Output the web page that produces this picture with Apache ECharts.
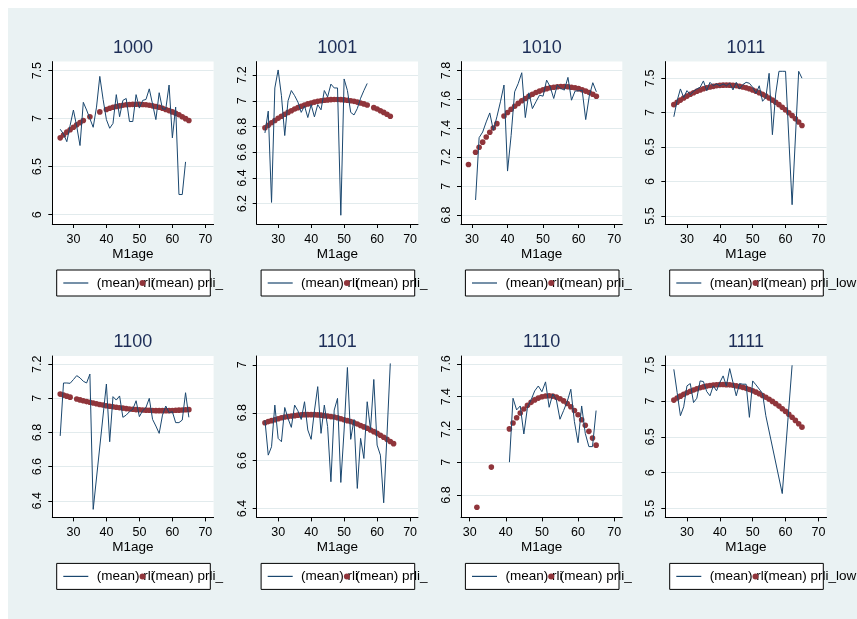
<!DOCTYPE html>
<html>
<head>
<meta charset="utf-8">
<title>rli by M1age</title>
<script src="https://cdn.jsdelivr.net/npm/echarts@6/dist/echarts.min.js"></script>
<style>
  html, body { margin: 0; padding: 0; background: #ffffff; }
  #chart { position: absolute; left: 8px; top: 8px; width: 849px; height: 611px; }
</style>
</head>
<body>
<div id="chart"></div>
<script>
// ages on the horizontal axis
const ages = [26, 27, 28, 29, 30, 31, 32, 33, 34, 35, 36, 37, 38, 39, 40, 41, 42, 43, 44, 45,
              46, 47, 48, 49, 50, 51, 52, 53, 54, 55, 56, 57, 58, 59, 60, 61, 62, 63, 64, 65];

const groupNames = ['1000', '1001', '1010', '1011', '1100', '1101', '1110', '1111'];
const xTicks = [30, 40, 50, 60, 70];

// (mean) rli by age, one array per group (null = no observation at that age)
const rli1000 = [6.89, 6.84, 6.76, 6.93, 7.09, 6.92, 6.72, 7.17, 7.09, 7.00, 6.91, 7.12, 7.44, 7.20, 6.99, 6.90, 6.95, 7.25, 7.02, 7.19,
                 7.21, 6.97, 6.97, 7.25, 7.11, 7.19, 7.20, 7.31, 7.15, 6.99, 7.27, 7.10, 7.10, 7.35, 6.80, 7.12, 6.21, 6.21, 6.55, null];
const rli1001 = [6.75, 6.92, 6.21, 7.10, 7.24, 7.04, 6.73, 7.00, 7.08, 7.04, 6.99, 6.91, 6.96, 6.87, 6.97, 6.875, 6.97, 6.93, 7.08, 7.03,
                 7.13, 7.10, 7.10, 6.11, 7.17, 7.08, 6.91, 6.89, 6.94, 7.02, 7.08, 7.135, null, null, null, null, null, null, null, null];
const rli1010 = [null, null, null, null, null, 6.905, 7.336, 7.375, 7.445, 7.507, 7.387, 7.48, 7.584, 7.70, 7.105, 7.35, 7.653, 7.71, 7.785, 7.475,
                 7.646, 7.537, 7.584, 7.63, 7.623, 7.734, 7.688, 7.607, 7.70, 7.676, 7.665, 7.753, 7.595, 7.658, 7.66, 7.665, 7.461, 7.623, 7.716, 7.653];
const rli1011 = [6.94, 7.174, 7.344, 7.22, 7.32, 7.26, 7.31, 7.344, 7.368, 7.46, 7.32, 7.44, 7.39, 7.416, 7.39, 7.416, 7.39, 7.426, 7.33, 7.44,
                 7.344, 7.407, 7.44, 7.426, 7.368, 7.28, 7.39, 7.165, 7.22, 7.571, 6.68, 7.27, 7.60, 7.60, 7.60, null, 5.663, null, 7.60, 7.50];
const rli1100 = [6.78, 7.09, 7.09, 7.088, 7.11, 7.133, 7.12, 7.10, 7.09, 7.142, 6.35, null, null, null, 7.084, 6.746, 7.01, 6.99, 7.014, 6.889,
                 6.902, 6.922, 6.936, 6.986, 6.893, 6.928, 6.947, 7.00, 6.877, 6.838, 6.795, 6.902, 6.955, 6.916, 6.922, 6.858, 6.858, 6.873, 7.033, 6.889];
const rli1101 = [6.769, 6.623, 6.658, 6.832, 6.693, 6.679, 6.822, 6.776, 6.739, 6.832, 6.808, 6.772, 6.846, 6.728, 6.689, 6.808, 6.909, 6.714, 6.832, 6.742,
                 6.512, 6.811, 6.86, 6.509, 6.728, 6.989, 6.689, 6.772, 6.484, 6.693, 6.609, 6.846, 6.73, 6.939, 6.665, 6.623, 6.424, 6.707, 7.006, null];
const rli1110 = [null, null, null, null, null, null, null, null, null, null, null, null, null, null, null, 7.00, 7.39, 7.319, 7.343, 7.172,
                 7.335, 7.38, 7.435, 7.465, 7.43, 7.49, 7.335, 7.416, 7.38, 7.262, 7.315, 7.37, 7.445, 7.247, 7.119, 7.343, 7.176, 7.095, 7.095, 7.315];
const rli1111 = [7.444, 7.12, 6.796, 6.92, 7.213, 7.245, 6.98, 7.04, 7.282, 7.273, 7.134, 7.074, 7.213, 7.144, 7.26, 7.352, 7.213, 7.454, 7.26, 7.074,
                 7.245, 7.236, 7.236, 6.773, 7.282, 7.227, 7.167, 7.106, 6.796, null, null, null, null, 5.708, null, null, 7.50, null, null, null];

// (mean) prli_low by age, one array per group
const prli1000 = [6.80, 6.83, 6.86, 6.885, 6.91, 6.936, 6.959, 6.98, null, 7.02, null, null, 7.07, null, 7.096, 7.108, 7.118, 7.126, 7.133, 7.139,
                  7.144, 7.147, 7.149, 7.15, 7.149, 7.147, 7.144, 7.139, 7.133, 7.126, 7.118, 7.108, 7.096, 7.084, 7.07, 7.055, 7.04, 7.02, 7.00, 6.98];
const prli1001 = [6.79, 6.81, 6.829, 6.847, 6.864, 6.88, 6.896, 6.91, 6.923, 6.936, 6.947, 6.958, 6.967, 6.976, 6.983, 6.99, 6.996, 7.00, 7.004, 7.007,
                  7.009, 7.01, 7.01, 7.009, 7.007, 7.004, 7.00, 6.996, 6.99, 6.983, 6.976, 6.967, null, 6.947, 6.936, 6.923, 6.91, 6.896, 6.88, null];
const prli1010 = [null, null, null, 7.15, null, 7.235, 7.27, 7.305, 7.341, 7.373, 7.403, 7.433, null, 7.486, 7.51, 7.532, 7.553, 7.573, 7.591, 7.607,
                  7.622, 7.636, 7.648, 7.658, 7.667, 7.675, 7.681, 7.685, 7.688, 7.69, 7.69, 7.688, 7.685, 7.681, 7.675, 7.667, 7.658, 7.648, 7.636, 7.622];
const prli1011 = [7.116, 7.15, 7.182, 7.212, 7.24, 7.266, 7.289, 7.31, 7.329, 7.346, 7.36, 7.372, 7.382, 7.39, 7.396, 7.399, 7.40, 7.399, 7.396, 7.39,
                  7.382, 7.372, 7.36, 7.346, 7.329, 7.31, 7.289, 7.266, 7.24, 7.212, 7.182, 7.15, 7.116, 7.079, 7.04, 6.999, 6.956, 6.91, 6.863, 6.813];
const prli1100 = [7.025, 7.019, 7.013, 7.007, null, 6.996, 6.991, 6.986, 6.981, 6.977, 6.973, 6.968, 6.964, 6.961, 6.957, 6.954, 6.951, 6.948, 6.945, 6.943,
                  6.94, 6.938, 6.936, 6.934, 6.933, 6.932, 6.931, 6.93, 6.929, 6.928, 6.928, 6.928, 6.928, 6.928, 6.929, 6.93, 6.931, 6.932, 6.933, 6.934];
const prli1101 = [6.758, 6.763, 6.767, 6.771, 6.775, 6.779, 6.782, 6.784, 6.786, 6.788, 6.79, 6.791, 6.792, 6.792, 6.792, 6.792, 6.791, 6.79, 6.788, 6.786,
                  6.784, 6.782, 6.779, 6.775, 6.771, 6.767, 6.763, 6.758, 6.753, 6.747, 6.741, 6.735, 6.728, 6.721, 6.714, 6.706, 6.698, 6.689, 6.68, 6.671];
const prli1110 = [null, null, null, null, null, null, 6.725, null, null, null, 6.97, null, null, null, null, 7.203, 7.239, 7.271, 7.30, 7.325,
                  7.347, 7.365, 7.38, 7.391, 7.399, 7.404, 7.405, 7.403, 7.397, 7.387, 7.374, 7.358, 7.338, 7.315, 7.289, 7.259, 7.225, 7.188, 7.147, 7.104];
const prli1111 = [7.014, 7.043, 7.069, 7.094, 7.116, 7.137, 7.156, 7.172, 7.187, 7.199, 7.21, 7.218, 7.225, 7.229, 7.232, 7.232, 7.23, 7.227, 7.221, 7.213,
                  7.204, 7.192, 7.178, 7.162, 7.145, 7.125, 7.103, 7.079, 7.054, 7.026, 6.996, 6.964, 6.93, 6.894, 6.856, 6.816, 6.774, 6.73, 6.684, 6.636];

// y-axis tick labels per group
const yTicks1000 = [6, 6.5, 7, 7.5];
const yTicks1001 = [6.2, 6.4, 6.6, 6.8, 7, 7.2];
const yTicks1010 = [6.8, 7, 7.2, 7.4, 7.6, 7.8];
const yTicks1011 = [5.5, 6, 6.5, 7, 7.5];
const yTicks1100 = [6.4, 6.6, 6.8, 7, 7.2];
const yTicks1101 = [6.4, 6.6, 6.8, 7];
const yTicks1110 = [6.8, 7, 7.2, 7.4, 7.6];
const yTicks1111 = [5.5, 6, 6.5, 7, 7.5];

// axis extents per group
const xRanges = [[23.6, 72.5], [23.5, 72.4], [26.9, 72.3], [23.4, 72.5],
                 [23.6, 72.5], [23.5, 72.4], [27.6, 72.25], [23.4, 72.5]];
const yRanges = [[5.903, 7.594], [6.042, 7.305], [6.739, 7.862], [5.383, 7.741],
                 [6.303, 7.248], [6.363, 7.037], [6.663, 7.648], [5.375, 7.63]];

const rliByGroup = [rli1000, rli1001, rli1010, rli1011, rli1100, rli1101, rli1110, rli1111];
const prliByGroup = [prli1000, prli1001, prli1010, prli1011, prli1100, prli1101, prli1110, prli1111];
const yTicksByGroup = [yTicks1000, yTicks1001, yTicks1010, yTicks1011, yTicks1100, yTicks1101, yTicks1110, yTicks1111];

// ---- layout and styling ----
const FONT = '"Liberation Sans", Arial, Helvetica, sans-serif';
const BLUE = '#1a476f';
const RED = '#90353b';
const colLeft = [44.3, 248.7, 453, 657.3];
const rowTop = [53.6, 348];
const plotW = 161.3;
const plotH = [162.4, 161.4];

const fmt = v => String(Math.round(v * 10) / 10);

const option = {
  backgroundColor: '#eaf2f3',
  animation: false,
  textStyle: { fontFamily: FONT },
  title: [], grid: [], xAxis: [], yAxis: [], legend: [], series: []
};

groupNames.forEach((name, i) => {
  const c = i % 4, r = Math.floor(i / 4);
  const L = colLeft[c], T = rowTop[r], W = plotW, H = plotH[r];

  option.grid.push({
    left: L, top: T, width: W, height: H,
    show: true, backgroundColor: '#ffffff', borderWidth: 0
  });

  option.title.push({
    text: name, left: L + W / 2, top: T - 24, textAlign: 'center', padding: 0,
    textStyle: { fontFamily: FONT, fontSize: 18, fontWeight: 'normal', color: '#1c2d57', lineHeight: 20 }
  });

  option.xAxis.push({
    gridIndex: i, type: 'value', min: xRanges[i][0], max: xRanges[i][1],
    name: 'M1age', nameLocation: 'middle', nameGap: 22,
    nameTextStyle: { fontFamily: FONT, fontSize: 13.5, color: '#000' },
    axisLine: { show: true, onZero: false, lineStyle: { color: '#000', width: 1 } },
    axisTick: { show: true, length: 4, customValues: xTicks, lineStyle: { color: '#000', width: 1 } },
    axisLabel: { customValues: xTicks, margin: 9, fontFamily: FONT, fontSize: 12.5, color: '#000', formatter: fmt },
    splitLine: { show: false }
  });

  option.yAxis.push({
    gridIndex: i, type: 'value', min: yRanges[i][0], max: yRanges[i][1],
    axisLine: { show: true, onZero: false, lineStyle: { color: '#000', width: 1 } },
    axisTick: { show: true, length: 4, customValues: yTicksByGroup[i], lineStyle: { color: '#000', width: 1 } },
    axisLabel: { customValues: yTicksByGroup[i], rotate: 90, margin: 8, fontFamily: FONT, fontSize: 12.5, color: '#000', formatter: fmt },
    splitLine: { show: true, lineStyle: { color: '#e2ebed', width: 1 } }
  });

  option.series.push({
    type: 'line', name: '(mean) rli', xAxisIndex: i, yAxisIndex: i,
    data: ages.map((a, k) => [a, rliByGroup[i][k]]),
    symbol: 'none', connectNulls: true, silent: true,
    lineStyle: { color: BLUE, width: 1 }, itemStyle: { color: BLUE }
  });
  option.series.push({
    type: 'scatter', name: '(mean) prli_low', xAxisIndex: i, yAxisIndex: i,
    data: ages.map((a, k) => [a, prliByGroup[i][k]]).filter(d => d[1] !== null),
    symbol: 'circle', symbolSize: 5.6, silent: true,
    itemStyle: { color: RED, opacity: 1 }
  });

  // legend box: line key + label, then the marker key overlapping it
  const boxLeft = L + 4.4, boxTop = T + H + 46;
  option.legend.push({
    data: [{ name: '(mean) rli', icon: 'rect' }], left: boxLeft, top: boxTop, orient: 'horizontal',
    itemWidth: 25, itemHeight: 1.2, itemGap: 0, selectedMode: false,
    itemStyle: { color: BLUE },
    padding: [6, 56.6, 6, 6.6],
    borderColor: '#000', borderWidth: 1, borderRadius: 0, backgroundColor: '#ffffff',
    textStyle: { fontFamily: FONT, fontSize: 13.5, color: '#000', lineHeight: 14, width: 55, padding: [0, 0, 0, 3.4] },
    z: 4
  });
  option.legend.push({
    data: ['(mean) prli_low'], left: boxLeft + 82.8, top: boxTop, orient: 'horizontal',
    itemWidth: 6, itemHeight: 6, itemGap: 0, selectedMode: false,
    itemStyle: { color: RED, opacity: 1 },
    padding: [6, 0, 6, 0],
    textStyle: { fontFamily: FONT, fontSize: 13.5, color: '#000', lineHeight: 14,
                 width: c === 3 ? 100 : 74, overflow: 'truncate', ellipsis: '', padding: [0, 0, 0, 0.5] },
    z: 5
  });
});

const chart = echarts.init(document.getElementById('chart'), null, { renderer: 'canvas' });
chart.setOption(option);
</script>
</body>
</html>
